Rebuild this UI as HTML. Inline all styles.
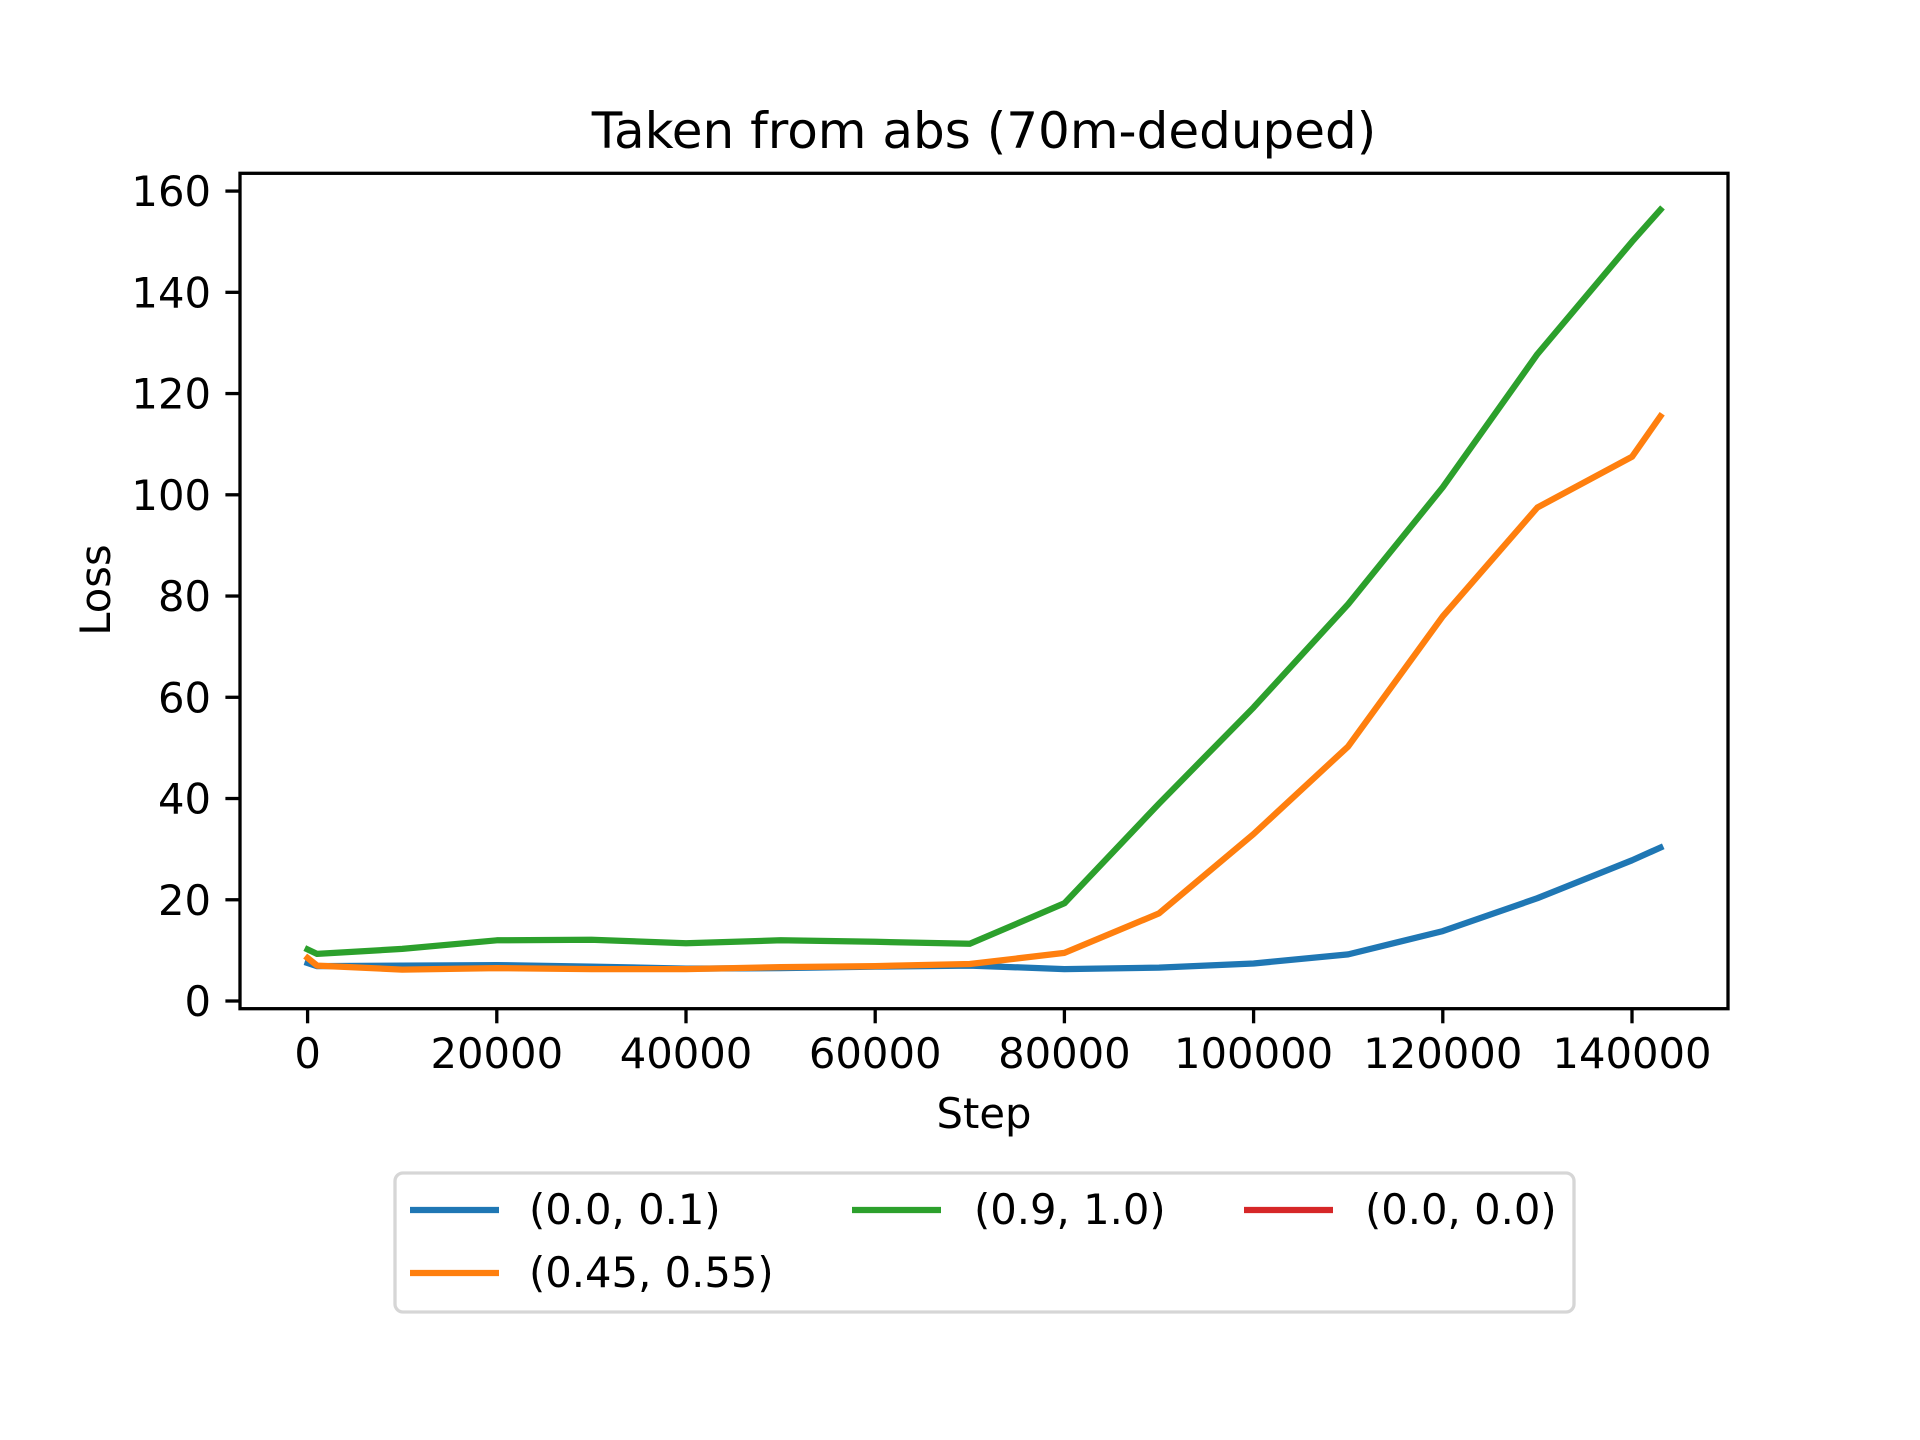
<!DOCTYPE html>
<html><head><meta charset="utf-8"><style>
html,body{margin:0;padding:0;background:#fff;}
svg{display:block;font-family:"DejaVu Sans","Liberation Sans",sans-serif;}
</style></head><body>
<svg id="chart" width="1920" height="1440" viewBox="0 0 1920 1440" xmlns="http://www.w3.org/2000/svg">
<rect width="1920" height="1440" fill="#fff"/>
<text x="984" y="148" font-size="50" text-anchor="middle">Taken from abs (70m-deduped)</text>
<g id="plot"></g>
<rect x="240" y="173.3" width="1488" height="835.4" fill="none" stroke="#000" stroke-width="3.3"/>
<g id="xticks"></g><g id="yticks"></g>
<text x="984" y="1128" font-size="41.7" text-anchor="middle">Step</text>
<text transform="translate(110,590) rotate(-90)" font-size="41.7" text-anchor="middle">Loss</text>
<g>
<rect x="395" y="1173" width="1179" height="139" rx="8" fill="#fff" stroke="#d6d6d6" stroke-width="3.3"/>
<line x1="410" y1="1210" x2="499" y2="1210" stroke="#1f77b4" stroke-width="6.25"/>
<text x="529" y="1224" font-size="41.7">(0.0, 0.1)</text>
<line x1="852" y1="1210" x2="941" y2="1210" stroke="#2ca02c" stroke-width="6.25"/>
<text x="974" y="1224" font-size="41.7">(0.9, 1.0)</text>
<line x1="1244" y1="1210" x2="1333" y2="1210" stroke="#d62728" stroke-width="6.25"/>
<text x="1365" y="1224" font-size="41.7">(0.0, 0.0)</text>
<line x1="410" y1="1273" x2="499" y2="1273" stroke="#ff7f0e" stroke-width="6.25"/>
<text x="529" y="1287" font-size="41.7">(0.45, 0.55)</text>
</g>
</svg>
<script>
const steps = [0,1000,10000,20000,30000,40000,50000,60000,70000,80000,90000,100000,110000,120000,130000,140000,143000];
const blueVals = [7.5,6.9,7.0,7.1,6.8,6.4,6.5,6.8,7.0,6.3,6.6,7.4,9.2,13.8,20.3,27.8,30.3];
const orangeVals = [8.5,7.0,6.2,6.5,6.3,6.3,6.7,6.9,7.3,9.5,17.3,33.0,50.3,76.0,97.5,107.5,115.5];
const greenVals = [10.2,9.3,10.3,12.0,12.1,11.4,12.0,11.7,11.3,19.3,39.0,58.0,78.4,101.5,127.8,150.0,156.3];
const xTicks = [0,20000,40000,60000,80000,100000,120000,140000];
const yTicks = [0,20,40,60,80,100,120,140,160];

const NS="http://www.w3.org/2000/svg";
const xs = v => 307.6 + v*0.009460;
const ys = v => 1001 - v*5.062;
function mk(tag, attrs, parent){const e=document.createElementNS(NS,tag);for(const k in attrs)e.setAttribute(k,attrs[k]);parent.appendChild(e);return e;}
const plot=document.getElementById('plot');
[[blueVals,'#1f77b4','series-0-0.1'],[greenVals,'#2ca02c','series-0.9-1.0'],[orangeVals,'#ff7f0e','series-0.45-0.55']].forEach(([vals,c,n])=>{
  const p=mk('polyline',{points:vals.map((v,i)=>xs(steps[i]).toFixed(1)+','+ys(v).toFixed(1)).join(' '),fill:'none',stroke:c,'stroke-width':6.25,'stroke-linecap':'square','stroke-linejoin':'round'},plot);
  
  
});
const xg=document.getElementById('xticks');
xTicks.forEach(t=>{
  const x=xs(t);
  const l=mk('line',{x1:x,y1:1008.7,x2:x,y2:1023.3,stroke:'#000','stroke-width':3.3},xg);
  
  
  const tx=mk('text',{x:x,y:1068,'font-size':41.7,'text-anchor':'middle'},xg);
  tx.textContent=t;
  
  
});
const yg=document.getElementById('yticks');
yTicks.forEach(t=>{
  const y=ys(t);
  const l=mk('line',{x1:225.4,y1:y,x2:240,y2:y,stroke:'#000','stroke-width':3.3},yg);
  
  
  const tx=mk('text',{x:211,y:y+15,'font-size':41.7,'text-anchor':'end'},yg);
  tx.textContent=t;
  
  
});
</script>
</body></html>
